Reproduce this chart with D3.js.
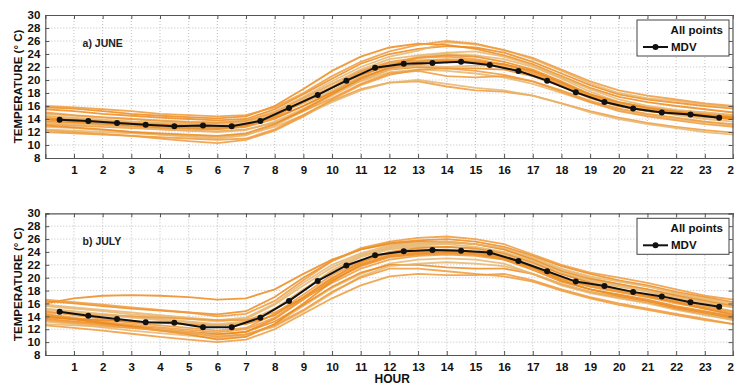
<!DOCTYPE html>
<html>
<head>
<meta charset="utf-8">
<script src="https://cdn.jsdelivr.net/npm/d3@7"></script>
<style>
  body { margin: 0; background: #fff; }
  svg { display: block; font-family: "Liberation Sans", Arial, sans-serif; font-weight: bold; }
</style>
</head>
<body>
<div id="chart"></div>
<script>
// hours of the MDV markers (half-hour centres) and of the daily curves
const mdvHours = [0.5,1.5,2.5,3.5,4.5,5.5,6.5,7.5,8.5,9.5,10.5,11.5,12.5,13.5,14.5,15.5,16.5,17.5,18.5,19.5,20.5,21.5,22.5,23.5]
const dayHours = [0,1,2,3,4,5,6,7,8,9,10,11,12,13,14,15,16,17,18,19,20,21,22,23,24]
const xTicks = [1,2,3,4,5,6,7,8,9,10,11,12,13,14,15,16,17,18,19,20,21,22,23,24]
const yTicks = [8,10,12,14,16,18,20,22,24,26,28,30]

const mdvJune = [13.9,13.7,13.4,13.1,12.9,13.0,12.9,13.7,15.7,17.7,19.9,21.9,22.5,22.6,22.8,22.3,21.4,19.9,18.1,16.6,15.6,15.0,14.7,14.2]
const mdvJuly = [14.7,14.1,13.6,13.1,13.0,12.3,12.3,13.8,16.4,19.5,21.9,23.5,24.1,24.3,24.2,23.9,22.6,21.0,19.4,18.7,17.8,17.1,16.2,15.5]

// June daily curves (all points)
const june = [
  [15.5,15.2,14.8,14.5,14.2,14.0,13.8,14.0,15.5,17.8,20.2,22.5,24.0,24.8,25.2,25.0,24.2,22.8,21.0,19.2,17.8,17.0,16.5,16.0,15.6],
  [14.8,14.5,14.2,14.0,13.8,13.6,13.5,13.8,15.2,17.4,19.8,22.0,23.6,24.5,25.8,25.5,24.6,23.2,21.4,19.5,18.0,17.2,16.8,16.2,15.8],
  [14.2,13.9,13.6,13.3,13.1,13.0,12.9,13.2,14.6,16.8,19.0,21.2,22.6,23.0,23.2,23.0,22.4,21.2,19.4,17.6,16.3,15.6,15.1,14.7,14.3],
  [13.6,13.4,13.1,12.8,12.6,12.5,12.4,12.8,14.0,16.0,18.2,20.4,21.8,22.4,22.8,22.6,22.0,20.8,19.0,17.2,16.0,15.2,14.7,14.3,14.0],
  [12.8,12.6,12.3,12.0,11.6,11.3,11.0,11.5,13.0,15.2,17.6,19.8,21.2,21.6,21.4,21.0,20.4,19.4,18.0,16.6,15.4,14.6,14.0,13.5,13.0],
  [12.3,12.0,11.7,11.4,11.0,10.6,10.3,10.8,12.2,14.4,16.8,18.6,19.6,19.8,19.0,18.4,18.2,17.6,16.4,15.2,14.2,13.4,12.8,12.3,11.9],
  [15.8,15.6,15.2,14.8,14.5,14.3,14.1,14.4,16.0,18.6,21.4,23.6,25.0,25.6,25.4,24.8,23.8,22.4,20.6,18.8,17.4,16.6,16.0,15.5,15.0],
  [14.5,14.1,13.8,13.6,13.4,13.3,13.3,13.6,14.8,16.4,18.4,20.6,22.4,23.6,24.0,23.8,23.2,22.0,20.2,18.2,16.6,15.8,15.3,15.0,14.6],
  [13.2,13.0,12.8,12.6,12.4,12.2,12.1,12.4,13.4,15.2,17.2,19.4,21.0,21.4,20.6,20.4,20.6,19.8,18.2,16.6,15.2,14.4,13.8,13.2,12.8],
  [13.9,13.6,13.3,13.0,12.8,12.7,12.6,13.0,14.4,16.6,18.8,20.8,22.2,23.4,23.8,23.6,22.8,21.6,19.8,17.8,16.4,15.6,15.0,14.5,14.1],
  [12.4,12.2,12.0,11.8,11.6,11.4,11.2,11.6,12.8,14.6,16.6,18.4,19.6,20.0,19.4,18.8,18.4,17.6,16.4,15.0,14.0,13.2,12.6,12.0,11.6],
  [15.0,14.6,14.3,14.0,13.7,13.5,13.4,13.7,15.0,17.2,19.4,21.4,22.8,23.4,23.6,23.2,22.4,21.0,19.2,17.4,16.2,15.6,15.2,14.8,14.4],
  [14.0,13.8,13.6,13.4,13.2,13.0,12.8,13.1,14.2,16.0,18.0,20.0,21.6,22.0,21.8,21.8,21.6,20.6,19.0,17.4,16.0,15.2,14.8,14.4,14.0],
  [13.4,13.2,13.0,12.7,12.4,12.2,12.0,12.3,13.6,15.6,17.8,20.0,21.6,22.2,22.0,22.2,22.2,21.4,19.6,17.8,16.4,15.4,14.6,14.0,13.6],
  [16.0,15.8,15.5,15.2,14.8,14.6,14.4,14.6,15.8,18.0,20.6,22.8,24.4,25.4,26.0,25.6,24.6,23.4,21.6,19.8,18.4,17.6,17.0,16.4,16.0],
  [13.0,12.7,12.4,12.0,11.8,11.6,11.4,11.8,13.2,15.4,17.8,20.2,22.0,22.8,23.0,22.8,22.4,21.4,19.6,17.8,16.6,15.8,15.2,14.6,14.2],
  [14.4,14.2,13.9,13.6,13.4,13.2,13.0,13.4,14.8,17.0,19.4,21.6,23.2,23.8,24.2,24.4,23.6,22.2,20.4,18.6,17.0,16.0,15.4,15.0,14.6],
  [12.0,11.8,11.6,11.4,11.2,11.0,10.8,11.0,12.4,14.6,17.0,19.2,20.8,21.6,21.8,21.4,20.8,19.8,18.4,16.8,15.6,14.8,14.2,13.6,13.2]
]

// July daily curves (all points)
const july = [
  [16.4,16.0,15.6,15.2,14.9,14.6,14.3,14.8,17.0,20.0,22.6,24.4,25.4,25.8,26.0,25.6,24.8,23.4,21.8,20.6,19.6,18.8,17.8,17.0,16.2],
  [15.6,15.2,14.8,14.3,14.0,13.6,13.2,13.6,15.8,18.8,21.6,23.6,24.8,25.2,25.4,25.2,24.4,23.0,21.2,20.0,19.0,18.2,17.4,16.6,15.8],
  [14.8,14.2,13.6,13.0,12.6,12.2,11.8,12.2,14.4,17.4,20.4,22.6,23.8,24.2,24.4,24.0,23.4,21.8,20.0,18.8,18.0,17.2,16.4,15.6,14.8],
  [14.0,13.5,13.0,12.5,12.0,11.6,11.2,11.6,13.6,16.6,19.6,21.8,23.2,23.6,23.8,23.6,22.8,21.2,19.4,18.2,17.4,16.6,15.6,14.8,14.0],
  [13.2,12.8,12.3,11.8,11.4,11.0,10.6,11.0,12.8,15.6,18.4,20.6,22.2,22.8,23.0,22.8,22.2,20.6,18.8,17.6,16.8,16.0,15.0,14.2,13.4],
  [12.6,12.2,11.8,11.3,10.8,10.4,10.0,10.4,12.0,14.4,16.8,18.8,20.2,20.6,20.4,20.4,20.6,19.6,18.2,17.0,16.0,15.2,14.4,13.6,12.8],
  [16.0,16.8,17.2,17.3,17.2,17.0,16.6,16.8,18.2,20.6,22.8,24.4,25.2,25.6,25.6,25.2,24.4,22.8,21.0,19.8,19.0,18.2,17.2,16.4,15.6],
  [15.2,14.8,14.4,14.0,13.6,13.2,12.8,13.2,15.2,18.2,21.0,23.2,24.4,24.8,24.8,24.4,23.6,22.2,20.6,19.4,18.6,17.8,16.8,16.0,15.4],
  [14.4,13.8,13.2,12.7,12.3,11.9,11.5,12.0,13.8,16.8,19.8,22.2,23.6,24.0,24.2,24.0,23.2,21.6,19.8,18.6,17.8,17.0,16.2,15.4,14.6],
  [13.6,13.2,12.8,12.4,12.0,11.6,11.2,11.6,13.2,15.8,18.6,20.8,22.0,22.0,21.6,21.4,21.4,20.6,19.0,17.8,17.0,16.2,15.2,14.4,13.6],
  [15.8,15.4,15.0,14.6,14.2,13.8,13.4,13.8,16.0,19.2,22.0,23.8,25.0,25.4,25.6,25.2,24.6,23.2,21.4,20.2,19.4,18.6,17.6,16.8,16.0],
  [14.6,14.4,14.2,14.0,13.8,13.6,13.4,13.4,14.6,16.8,19.2,21.4,22.8,23.4,23.6,23.4,22.8,21.4,19.8,18.6,17.8,17.0,16.0,15.2,14.4],
  [13.8,13.6,13.4,13.2,13.0,12.8,12.6,12.8,14.2,17.0,20.0,22.4,24.0,24.6,24.8,24.6,23.8,22.4,20.6,19.2,18.2,17.2,16.2,15.2,14.2],
  [12.8,12.6,12.4,12.2,12.0,11.6,11.0,11.2,12.4,14.8,17.6,20.2,21.8,22.2,22.4,22.2,21.8,20.6,19.0,17.8,17.0,16.2,15.4,14.4,13.4],
  [16.6,16.2,15.8,15.4,15.0,14.6,14.0,14.4,16.4,19.6,22.6,24.6,25.6,26.2,26.4,26.0,25.2,23.6,22.0,20.8,20.0,19.2,18.2,17.2,16.6],
  [14.2,13.6,13.0,12.4,11.8,11.2,10.4,10.8,12.8,16.0,19.4,22.0,23.4,23.8,24.0,23.8,23.0,21.6,19.6,18.2,17.2,16.4,15.4,14.6,13.8],
  [15.0,14.6,14.2,13.8,13.4,13.0,12.6,13.0,15.0,18.0,21.2,23.4,24.6,25.0,25.2,24.8,24.0,22.6,20.8,19.6,18.8,18.0,17.0,16.2,15.4],
  [13.4,13.0,12.6,12.2,11.8,11.4,10.8,11.2,12.6,15.0,17.8,20.0,21.4,21.4,21.0,20.6,20.2,19.4,18.0,16.8,15.8,15.0,14.2,13.4,12.8]
]

const width = 734, height = 388
const svg = d3.select("#chart").append("svg")
  .attr("width", width)
  .attr("height", height)

const x = d3.scaleLinear().domain([0, 24]).range([45.3, 733.5])

const curveColors = ["#ec8a1c", "#e6b56e", "#f09a3a"]

function drawPanel(top, bottom, label, curves, mdv) {
  const y = d3.scaleLinear().domain([8, 30]).range([bottom, top])
  const g = svg.append("g")

  // dotted grid
  g.selectAll(".gx").data(xTicks.slice(0, -1)).enter().append("line")
    .attr("x1", d => x(d)).attr("x2", d => x(d))
    .attr("y1", top).attr("y2", bottom)
    .attr("stroke", "#b0b0b0").attr("stroke-width", 0.8).attr("stroke-dasharray", "1,2")
  g.selectAll(".gy").data(yTicks.slice(1, -1)).enter().append("line")
    .attr("x1", x(0)).attr("x2", x(24))
    .attr("y1", d => y(d)).attr("y2", d => y(d))
    .attr("stroke", "#b0b0b0").attr("stroke-width", 0.8).attr("stroke-dasharray", "1,2")

  // all points
  const line = d3.line().x((d, i) => x(dayHours[i])).y(d => y(d))
  g.selectAll(".day").data(curves).enter().append("path")
    .attr("d", line)
    .attr("fill", "none")
    .attr("stroke", (d, i) => curveColors[i % 3])
    .attr("stroke-width", 1.8)
    .attr("stroke-opacity", 0.85)

  // MDV
  const mline = d3.line().x((d, i) => x(mdvHours[i])).y(d => y(d))
  g.append("path").attr("d", mline(mdv))
    .attr("fill", "none").attr("stroke", "#111").attr("stroke-width", 2)
  g.selectAll(".mk").data(mdv).enter().append("circle")
    .attr("cx", (d, i) => x(mdvHours[i])).attr("cy", d => y(d)).attr("r", 3)
    .attr("fill", "#111")

  // frame with inward ticks
  const axB = g.append("g").attr("transform", `translate(0,${bottom})`)
    .call(d3.axisBottom(x).tickValues(xTicks).tickSize(-4).tickPadding(8).tickFormat(d3.format("d")))
  const axT = g.append("g").attr("transform", `translate(0,${top})`)
    .call(d3.axisTop(x).tickValues(xTicks).tickSize(-4).tickFormat(""))
  const axL = g.append("g").attr("transform", `translate(${x(0)},0)`)
    .call(d3.axisLeft(y).tickValues(yTicks).tickSize(-4).tickPadding(5))
  const axR = g.append("g").attr("transform", `translate(${x(24) - 1},0)`)
    .call(d3.axisRight(y).tickValues(yTicks).tickSize(-4).tickFormat(""))
  ;[axB, axT, axL, axR].forEach(a => {
    a.selectAll("path").attr("stroke", "#555").attr("stroke-width", 1.2)
    a.selectAll("line").attr("stroke", "#555")
    a.selectAll("text").attr("fill", "#111").style("font-size", "11.5px")
      .style("font-family", "'Liberation Sans', Arial, sans-serif").style("font-weight", "bold")
  })

  g.append("text").attr("x", x(1.3)).attr("y", top + 32)
    .style("font-size", "10.5px").attr("fill", "#222").text(label)

  g.append("text")
    .attr("transform", `translate(22,${(top + bottom) / 2}) rotate(-90)`)
    .attr("text-anchor", "middle").style("font-size", "11.5px").attr("fill", "#111")
    .text("TEMPERATURE (° C)")

  // legend
  const lg = g.append("g").attr("transform", `translate(637,${top + 5})`)
  lg.append("rect").attr("width", 92).attr("height", 36)
    .attr("fill", "#fff").attr("stroke", "#444").attr("stroke-width", 1)
  lg.append("text").attr("x", 86).attr("y", 14).attr("text-anchor", "end")
    .style("font-size", "11.5px").attr("fill", "#111").text("All points")
  lg.append("line").attr("x1", 6).attr("x2", 31).attr("y1", 27).attr("y2", 27)
    .attr("stroke", "#111").attr("stroke-width", 2)
  lg.append("circle").attr("cx", 18.5).attr("cy", 27).attr("r", 3).attr("fill", "#111")
  lg.append("text").attr("x", 34).attr("y", 31)
    .style("font-size", "11.5px").attr("fill", "#111").text("MDV")
}

drawPanel(15, 158, "a) JUNE", june, mdvJune)
drawPanel(213.3, 355, "b) JULY", july, mdvJuly)

svg.append("text").attr("x", x(12.1)).attr("y", 383)
  .attr("text-anchor", "middle").style("font-size", "12px").attr("fill", "#111").text("HOUR")
</script>
</body>
</html>
